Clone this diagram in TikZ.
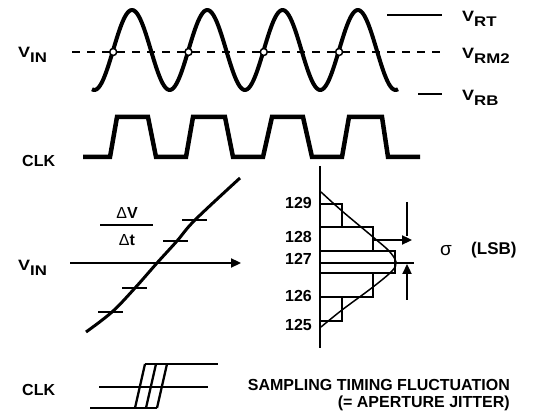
\documentclass[tikz,border=0pt]{standalone}
\usepackage{fontspec}
\setmainfont{Liberation Sans}
\usetikzlibrary{arrows.meta}
\newcommand\vsub[1]{\scalebox{1.2}[1]{\fontsize{15}{15}\selectfont V\raisebox{-0.3em}{\fontsize{14}{14}\selectfont #1}}}
\tikzset{
  lbl/.style={font=\fontsize{16}{18}\selectfont\bfseries, inner sep=0pt},
  wave/.style={line width=4pt, line join=round},
  clkwave/.style={line width=4.5pt, line join=miter},
  thin/.style={line width=1.5pt},
  med/.style={line width=2.3pt},
  tip/.style={-{Triangle[length=10pt,width=9pt]}},
}
\begin{document}
\begin{tikzpicture}[x=1pt,y=-1pt]
\useasboundingbox (0,0) rectangle (536,414);
% ---- top: input waveform
\draw[thin, dash pattern=on 8pt off 7pt] (72,52) coordinate (d1) -- (440,52) coordinate (d2);
\draw[wave] plot[domain=92:398, samples=200, variable=\x] ({\x},{50-40*cos(4.781*(\x-132))});
\foreach \i/\cx in {1/113.2, 2/188.5, 3/263.8, 4/339.1}
  \node[circle, draw, fill=white, line width=1.5pt, minimum size=7pt, inner sep=0pt] (c\i) at (\cx,52) {};
\coordinate (rt1) at (387,15); \coordinate (rt2) at (442,15);
\coordinate (rb1) at (418,94); \coordinate (rb2) at (442,94);
\draw[thin] (rt1) -- (rt2);
\draw[thin] (rb1) -- (rb2);
\node[lbl, anchor=west] (vin1) at (18,55) {\vsub{IN}};
\node[lbl, anchor=west] (vrt) at (462,19) {\vsub{RT}};
\node[lbl, anchor=west] (vrm) at (462,56) {\vsub{RM2}};
\node[lbl, anchor=west] (vrb) at (462,98) {\vsub{RB}};
% ---- clock
\draw[clkwave] (83,157) -- (110,157) -- (117,117) -- (148,117) -- (156,157) -- (186,157) -- (193,117) -- (225,117) -- (233,157) -- (263,157) -- (272,117) -- (303,117) -- (312,157) -- (342,157) -- (349,117) -- (382,117) -- (388,157) -- (420,157);
\node[lbl, anchor=west] (clk1) at (22,161) {CLK};
% ---- middle: slope
\draw[line width=3pt] plot[smooth, tension=0.6] coordinates {(86,332) (112,312) (135,288) (157,263) (177,241) (195,220) (240,178)};
\foreach \a/\b/\yy in {98/123/312, 122/147/288, 163/188/241, 182/207/220}
  \draw[thin] (\a,\yy) -- (\b,\yy);
\coordinate (ar1) at (70,263); \coordinate (ar2) at (241,263);
\draw[med, tip] (ar1) -- (ar2);
\node[lbl, anchor=west] (vin2) at (18,268) {\vsub{IN}};
\draw[thin] (100,225) -- (153,225);
\node[lbl] (dv) at (127,213) {{\mdseries\symbol{"0394}}V};
\node[lbl] (dt) at (127,240) {{\mdseries\symbol{"0394}}t};
% ---- histogram
\coordinate (ax1) at (320,166); \coordinate (ax2) at (320,348);
\draw[line width=2.5pt] (ax1) -- (ax2);
\draw[med] (320,204) rectangle (342,227);
\draw[med] (320,227) rectangle (373,251);
\draw[med] (320,251) rectangle (395,273);
\draw[med] (320,273) rectangle (373,297);
\draw[med] (320,297) rectangle (342,321);
\draw[med] (320,263) -- (414,263);
\draw[thin] plot[smooth, tension=0.55] coordinates {(321,192) (342,211) (373,237) (389,251) (396,262) (392,271) (373,287) (342,310) (321,327)};
\node[lbl, anchor=east] (n129) at (312,203) {129};
\node[lbl, anchor=east] (n128) at (312,237) {128};
\node[lbl, anchor=east] (n127) at (312,259) {127};
\node[lbl, anchor=east] (n126) at (312,296) {126};
\node[lbl, anchor=east] (n125) at (312,325) {125};
\coordinate (s1) at (373,240); \coordinate (s2) at (412,240);
\coordinate (s3) at (407,202); \coordinate (s4) at (407,236);
\coordinate (s5) at (407,300); \coordinate (s6) at (407,264);
\draw[med, tip] (s1) -- (s2);
\draw[med] (s3) -- (s4);
\draw[med, tip] (s5) -- (s6);
\node[lbl, anchor=center, font=\fontsize{19}{19}\selectfont] (sig) at (446,251) {\symbol{"03C3}};
\node[lbl, anchor=west, font=\fontsize{17}{18}\selectfont\bfseries] (lsb) at (471,250) {(LSB)};
% ---- bottom: jitter clock
\draw[med] (90,408) -- (157,408);
\draw[med] (99,387) -- (208,387);
\draw[med] (145,364) -- (218,364);
\draw[med] (135,408) -- (145,364);
\draw[med] (146,408) -- (156,364);
\draw[med] (157,408) -- (167,364);
\node[lbl, anchor=west] (clk2) at (22,390) {CLK};
\node[lbl, anchor=east] (t1) at (510,385) {SAMPLING TIMING FLUCTUATION};
\node[lbl, anchor=east] (t2) at (510,403) {(= APERTURE JITTER)};
\end{tikzpicture}
\end{document}
